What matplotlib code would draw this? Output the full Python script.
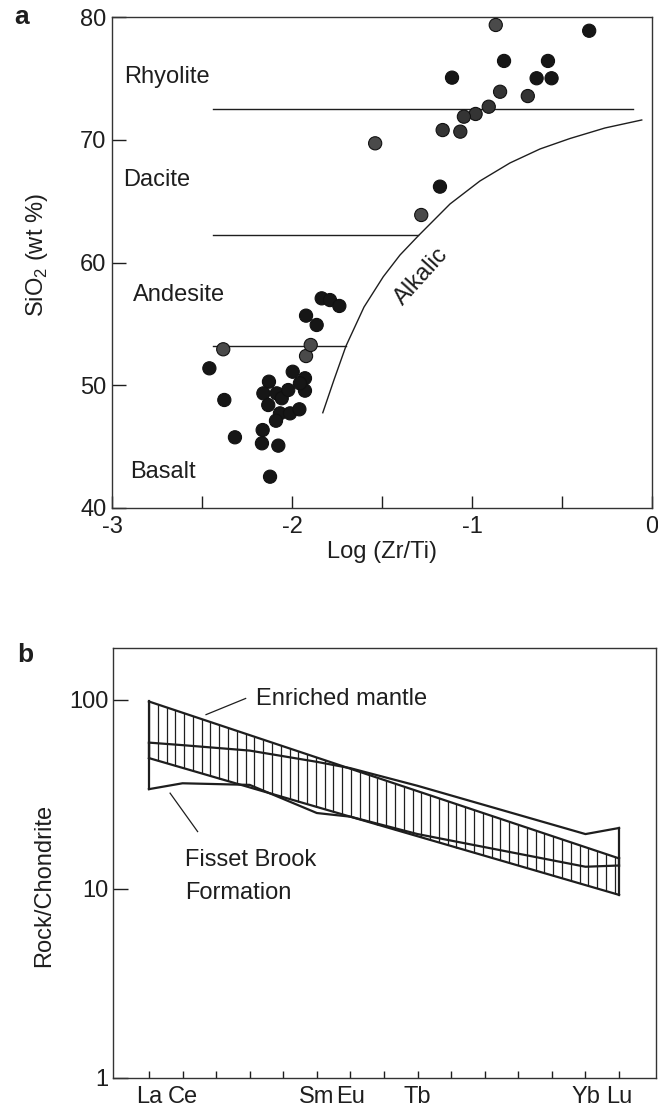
import numpy as np
import matplotlib
matplotlib.use('Agg')
import matplotlib.pyplot as plt

plt.rcParams['font.family'] = ['Liberation Sans', 'DejaVu Sans']
plt.rcParams['axes.unicode_minus'] = False
plt.rcParams['mathtext.fontset'] = 'custom'
plt.rcParams['mathtext.rm'] = 'Liberation Sans'

# ---------------- Panel a data ----------------
log_zr_ti = [-0.868, -0.349, -0.822, -0.578, -1.111, -0.641, -0.558, -0.844, -0.690,
             -0.907, -0.980, -1.045, -1.163, -1.065, -1.538, -1.178, -1.282,
             -2.382, -2.459, -2.376, -2.317, -2.122, -2.163, -2.167, -2.076, -2.128,
             -2.159, -2.132, -2.085, -2.057, -2.067, -2.089, -2.011, -1.959, -2.021,
             -1.996, -1.928, -1.928, -1.956, -1.922, -1.896, -1.922, -1.863, -1.835,
             -1.789, -1.737]
sio2 = [79.35, 78.88, 76.42, 76.42, 75.06, 75.01, 75.01, 73.91, 73.56,
        72.69, 72.10, 71.88, 70.79, 70.66, 69.71, 66.18, 63.87,
        52.93, 51.38, 48.80, 45.76, 42.55, 46.35, 45.27, 45.08, 50.29,
        49.34, 48.39, 49.34, 48.94, 47.71, 47.11, 47.71, 48.04, 49.61,
        51.10, 50.57, 49.56, 50.16, 52.38, 53.28, 55.67, 54.91, 57.08,
        56.94, 56.46]
shade = ['g', 'k', 'k', 'k', 'k', 'k', 'k', 'm', 'm',
         'm', 'm', 'm', 'm', 'm', 'g', 'k', 'g',
         'g', 'k', 'k', 'k', 'k', 'k', 'k', 'k', 'k',
         'k', 'k', 'k', 'k', 'k', 'k', 'k', 'k', 'k',
         'k', 'k', 'k', 'k', 'g', 'g', 'k', 'k', 'k',
         'k', 'k']

field_names = ['Rhyolite', 'Dacite', 'Andesite', 'Basalt']
field_x = [-2.93, -2.94, -2.885, -2.90]
field_y = [75.1, 66.7, 57.35, 42.96]

boundary_y = [72.5, 62.2, 53.2]
boundary_x0 = [-2.44, -2.44, -2.44]
boundary_x1 = [-0.106, -1.30, -1.70]

alkalic_x = [-1.829, -1.767, -1.700, -1.600, -1.493, -1.400, -1.298, -1.122,
             -0.956, -0.789, -0.622, -0.456, -0.261, -0.057]
alkalic_y = [47.76, 50.43, 53.20, 56.37, 58.84, 60.61, 62.18, 64.77,
             66.64, 68.11, 69.25, 70.10, 70.96, 71.61]

# ---------------- Panel b data ----------------
ree = ['La', 'Ce', 'Pr', 'Nd', 'Pm', 'Sm', 'Eu', 'Gd', 'Tb', 'Dy', 'Ho', 'Er', 'Tm', 'Yb', 'Lu']
ree_labeled = ['La', 'Ce', 'Sm', 'Eu', 'Tb', 'Yb', 'Lu']

em_elements = ['La', 'Lu']
em_upper = [98.0, 14.5]
em_lower = [49.2, 9.3]

fb_elements = ['La', 'Ce', 'Nd', 'Sm', 'Eu', 'Tb', 'Yb', 'Lu']
fb_upper = [59.4, 57.6, 53.9, 47.0, 43.5, 35.1, 19.5, 21.0]
fb_lower = [33.7, 36.2, 35.5, 25.2, 24.1, 19.5, 13.1, 13.3]

# ---------------- Figure ----------------
W, H = 658, 1107
fig = plt.figure(figsize=(W / 100, H / 100), dpi=100)
ink = '#1e1e1e'
FS = 17

axa = fig.add_axes([112 / W, 1 - 508 / H, 540 / W, 491 / H])
axa.set_xlim(-3, 0)
axa.set_ylim(40, 80)

cmap = {'k': '#161616', 'm': '#343434', 'g': '#4a4a4a'}
cols = [cmap[s] for s in shade]
axa.scatter(log_zr_ti, sio2, s=90, c=cols, edgecolors='#111111', linewidths=0.8, zorder=3)

for x0, x1, yb in zip(boundary_x0, boundary_x1, boundary_y):
    axa.plot([x0, x1], [yb, yb], color=ink, lw=1.0)
axa.plot(alkalic_x, alkalic_y, color=ink, lw=1.0, solid_joinstyle='round')
axa.text(-1.279, 58.84, 'Alkalic', rotation=48, ha='center', va='center', fontsize=FS, color=ink)

for name, fx, fy in zip(field_names, field_x, field_y):
    axa.text(fx, fy, name, ha='left', va='center', fontsize=FS, color=ink)

axa.set_xticks([-3, -2.5, -2, -1.5, -1, -0.5, 0])
axa.set_xticklabels(['-3', '', '-2', '', '-1', '', '0'])
axa.set_yticks([40, 50, 60, 70, 80])
axa.tick_params(axis='both', direction='in', labelsize=FS, colors=ink, width=1.0)
axa.tick_params(axis='y', length=10, pad=4)
axa.tick_params(axis='x', length=9, pad=6)
axa.set_xlabel('Log (Zr/Ti)', fontsize=FS, color=ink, labelpad=2)
axa.set_ylabel('SiO$_\\mathregular{2}$ (wt %)', fontsize=FS, color=ink)
axa.yaxis.set_label_coords(-0.115, 0.515)
for sp in axa.spines.values():
    sp.set_color('#333333')
    sp.set_linewidth(1.0)

fig.text(22 / W, 1 - 17 / H, 'a', fontsize=19, fontweight='bold', ha='center', va='center', color=ink)

# ---------------- Panel b ----------------
axb = fig.add_axes([113 / W, 1 - 1078 / H, 543 / W, 430 / H])
axb.set_yscale('log')
axb.set_xlim(-1.07, 15.10)
axb.set_ylim(1, 188)

pos = {e: i for i, e in enumerate(ree)}
em_x = [pos[e] for e in em_elements]
fb_x = [pos[e] for e in fb_elements]

# hatch between enriched-mantle bounds
hx = np.arange(em_x[0], em_x[-1] + 1e-9, (em_x[-1] - em_x[0]) / 53.5)
hi = 10 ** np.interp(hx, em_x, np.log10(em_upper))
lo = 10 ** np.interp(hx, em_x, np.log10(em_lower))
axb.vlines(hx, lo, hi, color=ink, lw=0.9)

# enriched mantle outline
axb.plot(em_x, em_upper, color=ink, lw=1.6)
axb.plot(em_x, em_lower, color=ink, lw=1.6)
axb.plot([em_x[0]] * 2, [em_lower[0], em_upper[0]], color=ink, lw=1.6)
axb.plot([em_x[-1]] * 2, [em_lower[-1], em_upper[-1]], color=ink, lw=1.6)

# Fisset Brook Formation outline
axb.plot(fb_x, fb_upper, color=ink, lw=1.6)
axb.plot(fb_x, fb_lower, color=ink, lw=1.6)
axb.plot([fb_x[0]] * 2, [fb_lower[0], fb_upper[0]], color=ink, lw=1.6)
axb.plot([fb_x[-1]] * 2, [fb_lower[-1], fb_upper[-1]], color=ink, lw=1.6)

axb.text(3.18, 101, 'Enriched mantle', ha='left', va='center', fontsize=FS, color=ink)
axb.plot([1.70, 2.88], [83.5, 101.7], color=ink, lw=0.9)
axb.text(1.07, 14.2, 'Fisset Brook', ha='left', va='center', fontsize=FS, color=ink)
axb.text(1.07, 9.49, 'Formation', ha='left', va='center', fontsize=FS, color=ink)
axb.plot([0.63, 1.45], [32.1, 20.1], color=ink, lw=0.9)

axb.set_xticks(range(len(ree)))
axb.set_xticklabels([e if e in ree_labeled else '' for e in ree])
axb.set_yticks([1, 10, 100])
axb.set_yticklabels(['1', '10', '100'])
axb.minorticks_off()
axb.tick_params(axis='both', direction='in', labelsize=FS, colors=ink, width=1.0)
axb.tick_params(axis='y', length=11, pad=3)
axb.tick_params(axis='x', length=5, pad=6)
axb.set_ylabel('Rock/Chondrite', fontsize=FS, color=ink)
axb.yaxis.set_label_coords(-0.107, 0.447)
for sp in axb.spines.values():
    sp.set_color('#333333')
    sp.set_linewidth(1.0)

fig.text(25 / W, 1 - 655 / H, 'b', fontsize=19, fontweight='bold', ha='center', va='center', color=ink)

fig.savefig('out.png', dpi=100)
